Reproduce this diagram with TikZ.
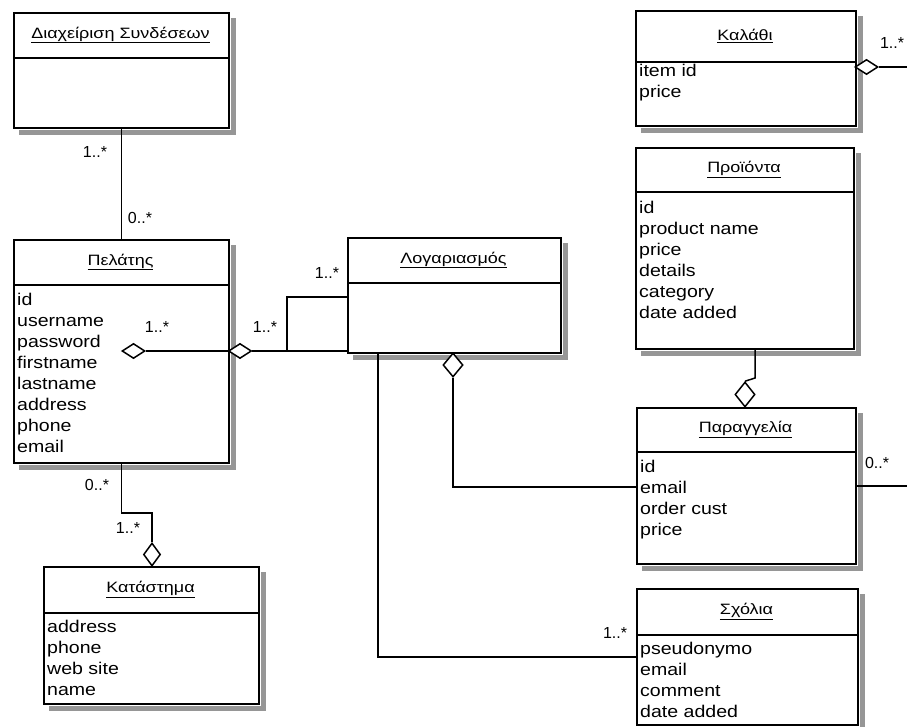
\documentclass[tikz,border=0pt]{standalone}
\usepackage{fontspec}
\setmainfont{Liberation Sans}
\newfontfamily\attrfont{Liberation Sans}[FakeStretch=1.15]
\newfontfamily\ttlfont{Liberation Sans}[FakeStretch=1.2]
\usetikzlibrary{shapes.geometric,calc}
\definecolor{shadowgray}{RGB}{150,150,150}
\begin{document}
\begin{tikzpicture}[x=1pt,y=-1pt,
  cls/.style={draw, line width=2pt, fill=white, rectangle, anchor=north west, inner sep=0pt},
  shadowc/.style={fill=shadowgray, draw=none},
  divline/.style={line width=2pt},
  ttl/.style={inner sep=0pt, font=\ttlfont\fontsize{15}{18}\selectfont},
  attr/.style={anchor=north west, inner sep=0pt, align=left, font=\attrfont\fontsize{17}{21}\selectfont},
  con/.style={line width=1.5pt},
  dia/.style={diamond, draw, line width=1.5pt, fill=white, inner sep=0pt},
  lbl/.style={inner sep=0pt, font=\fontsize{16}{19}\selectfont}]
\fill[white] (0,0) rectangle (907,727);
\useasboundingbox (0,0) rectangle (907,727);

% --- classes ---
\node[cls, minimum width=215pt, minimum height=115pt] (diax) at (13,12) {};
\draw[divline] ([yshift=-46pt]diax.north west) -- ([yshift=-46pt]diax.north east);
\node[ttl] (diaxT) at (120.5,35) {\underline{Διαχείριση Συνδέσεων}};

\node[cls, minimum width=215pt, minimum height=223pt] (pel) at (13,239) {};
\draw[divline] ([yshift=-46pt]pel.north west) -- ([yshift=-46pt]pel.north east);
\node[ttl] (pelT) at (120.5,262) {\underline{Πελάτης}};
\node[attr] (pelA) at (17,293) {id\\username\\password\\firstname\\lastname\\address\\phone\\email};

\node[cls, minimum width=213pt, minimum height=115pt] (log) at (347,237) {};
\draw[divline] ([yshift=-46pt]log.north west) -- ([yshift=-46pt]log.north east);
\node[ttl] (logT) at (453.5,260) {\underline{Λογαριασμός}};

\node[cls, minimum width=220pt, minimum height=115pt] (kal) at (635,10) {};
\draw[divline] ([yshift=-52pt]kal.north west) -- ([yshift=-52pt]kal.north east);
\node[ttl] (kalT) at (745,36) {\underline{Καλάθι}};
\node[attr] (kalA) at (639,64) {item id\\price};

\node[cls, minimum width=218pt, minimum height=201pt] (pro) at (635,147) {};
\draw[divline] ([yshift=-45pt]pro.north west) -- ([yshift=-45pt]pro.north east);
\node[ttl] (proT) at (744,169.5) {\underline{Προϊόντα}};
\node[attr] (proA) at (639,201) {id\\product name\\price\\details\\category\\date added};

\node[cls, minimum width=219pt, minimum height=156pt] (par) at (636,407) {};
\draw[divline] ([yshift=-45pt]par.north west) -- ([yshift=-45pt]par.north east);
\node[ttl] (parT) at (745.5,429.5) {\underline{Παραγγελία}};
\node[attr] (parA) at (640,460) {id\\email\\order cust\\price};

\node[cls, minimum width=221pt, minimum height=136pt] (sch) at (636,588) {};
\draw[divline] ([yshift=-47pt]sch.north west) -- ([yshift=-47pt]sch.north east);
\node[ttl] (schT) at (746.5,611.5) {\underline{Σχόλια}};
\node[attr] (schA) at (640,642) {pseudonymo\\email\\comment\\date added};

\node[cls, minimum width=215pt, minimum height=137pt] (kat) at (43,566) {};
\draw[divline] ([yshift=-47pt]kat.north west) -- ([yshift=-47pt]kat.north east);
\node[ttl] (katT) at (150.5,589.5) {\underline{Κατάστημα}};
\node[attr] (katA) at (47,620) {address\\phone\\web site\\name};

% --- shadows (right and bottom bands) ---
\foreach \n in {diax,pel,log,kal,pro,par,sch,kat}{
  \fill[shadowc] ([shift={(1.2pt,-6pt)}]\n.north east) rectangle ([shift={(6pt,-6pt)}]\n.south east);
  \fill[shadowc] ([shift={(6pt,-1.2pt)}]\n.south west) rectangle ([shift={(6pt,-6pt)}]\n.south east);
}

% --- connectors ---
\draw[con] (diax.south) -- (pel.north);

\node[dia, minimum width=23pt, minimum height=15pt] (d1) at (133.5,351) {};
\node[dia, minimum width=23pt, minimum height=15pt] (d2) at (240,351) {};
\draw[con] (d1.east) -- (d2.west);
\draw[con] (d2.east) -- (d2.east -| log.west);
\coordinate (j1) at (287,351);
\draw[con] (j1) |- (log.west |- 0,297);

\node[dia, minimum width=20pt, minimum height=24pt] (d3) at (453,365) {};
\draw[con] (d3.south) |- (par.west |- 0,487);
\draw[con] (log.south -| 378,0) |- (sch.west |- 0,657);

\node[dia, minimum width=23pt, minimum height=15pt] (d4) at (866.5,67) {};
\coordinate (e1) at (907,67);
\draw[con] (d4.east) -- (e1);

\coordinate (e2) at (907,486);
\draw[con] (par.east |- e2) -- (e2);

\node[dia, minimum width=20pt, minimum height=25pt] (d5) at (745,394.5) {};
\coordinate (c5) at (755,378);
\draw[con] (pro.south -| c5) -- (c5) -- (d5.north);

\node[dia, minimum width=17pt, minimum height=23pt] (d6) at (152,554.5) {};
\draw[con] (pel.south) -- (pel.south |- 0,513) -| (d6.north);

% --- multiplicities ---
\node[lbl] (m1) at (95,152) {1..*};
\node[lbl] (m2) at (140,218) {0..*};
\node[lbl] (m3) at (157,327) {1..*};
\node[lbl] (m4) at (265,327) {1..*};
\node[lbl] (m5) at (327,273) {1..*};
\node[lbl] (m6) at (892,43) {1..*};
\node[lbl] (m7) at (877,463) {0..*};
\node[lbl] (m8) at (615,633) {1..*};
\node[lbl] (m9) at (97,485) {0..*};
\node[lbl] (m10) at (128,528) {1..*};
\end{tikzpicture}
\end{document}
